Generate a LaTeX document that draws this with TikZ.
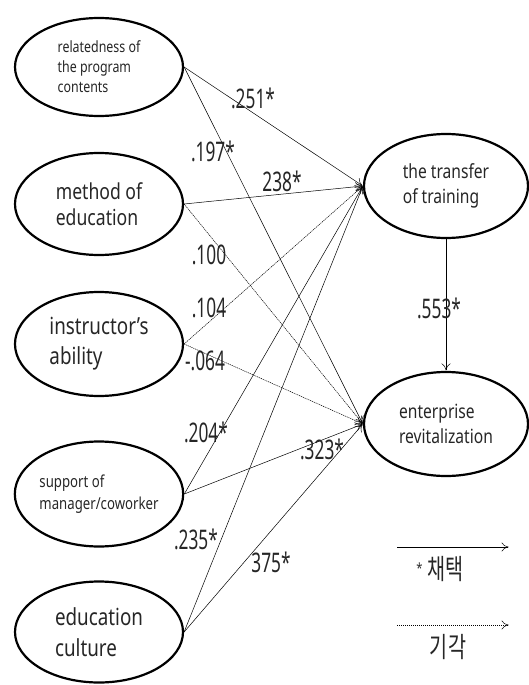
\documentclass[tikz,border=0pt]{standalone}
\usepackage{fontspec}
\setmainfont{Noto Sans}[FakeStretch=0.8]
\newfontfamily\numfont{Noto Sans}[FakeStretch=0.64]
\newfontfamily\kr{Noto Sans CJK KR}[FakeStretch=0.7]
\usetikzlibrary{shapes.geometric,arrows.meta}
\begin{document}
\begin{tikzpicture}[x=1pt,y=-1pt,
  var/.style={draw,ellipse,line width=2.2pt,inner sep=0pt,align=left,text=black!85},
  path/.style={-{To[length=7pt,width=9pt]},line width=0.5pt,shorten >=0.5pt},
  ns/.style={path,dash pattern=on 1.2pt off 0.8pt},
  coef/.style={font=\numfont\fontsize{27}{27}\selectfont,inner sep=0pt,text=black!85}]
\useasboundingbox (0,0) rectangle (528,685);
% left variables
\node[var,minimum width=168pt,minimum height=98pt,font=\fontsize{15.5}{20}\selectfont] (rel) at (99,67) {relatedness of\\the program\\contents};
\node[var,minimum width=168pt,minimum height=102pt,font=\fontsize{22}{26}\selectfont] (met) at (99,204) {method of\\education};
\node[var,minimum width=168pt,minimum height=104pt,font=\fontsize{23.5}{30}\selectfont] (ins) at (99,344) {instructor's\\ability};
\node[var,minimum width=168pt,minimum height=105pt,font=\fontsize{16.5}{22}\selectfont] (sup) at (99,494) {support of\\manager/coworker};
\node[var,minimum width=168pt,minimum height=101pt,font=\fontsize{23.5}{31}\selectfont] (edu) at (99,632) {education\\culture};
% right variables
\node[var,minimum width=164pt,minimum height=104pt,font=\fontsize{19.5}{25}\selectfont] (tr) at (446,186) {the transfer\\of training};
\node[var,minimum width=164pt,minimum height=104pt,font=\fontsize{19.5}{25}\selectfont] (en) at (446,424) {enterprise\\revitalization};
% paths
\draw[path] (rel.east) -- (tr.west);
\draw[path] (rel.east) -- (en.west);
\draw[path] (met.east) -- (tr.west);
\draw[ns] (met.east) -- (en.west);
\draw[ns] (ins.east) -- (tr.west);
\draw[ns] (ins.east) -- (en.west);
\draw[path] (sup.east) -- (tr.west);
\draw[path] (sup.east) -- (en.west);
\draw[path] (edu.east) -- (tr.west);
\draw[path] (edu.east) -- (en.west);
\draw[path] (tr.south) -- (en.north);
% coefficients
\node[coef] (c1) at (253,98) {.251*};
\node[coef] (c2) at (213,151) {.197*};
\node[coef] (c3) at (282,181) {238*};
\node[coef] (c4) at (209,255) {.100};
\node[coef] (c5) at (209,308) {.104};
\node[coef] (c6) at (205,361) {-.064};
\node[coef] (c7) at (206,432) {.204*};
\node[coef] (c8) at (322,449) {.323*};
\node[coef] (c9) at (196,539) {.235*};
\node[coef] (c10) at (271,562) {375*};
\node[coef] (c11) at (439,308) {.553*};
% legend
\coordinate (la) at (397,547);
\coordinate (lb) at (509,547);
\coordinate (lc) at (397,625);
\coordinate (ld) at (509,625);
\draw[path] (la) -- (lb);
\draw[ns] (lc) -- (ld);
\node[inner sep=0pt,text=black!85] (t1) at (440,569) {\raisebox{6pt}{\fontsize{14}{14}\selectfont *}\hspace{5pt}\kr\fontsize{28}{28}\selectfont 채택};
\node[inner sep=0pt,text=black!85] (t2) at (448,647) {\kr\fontsize{28}{28}\selectfont 기각};
\end{tikzpicture}
\end{document}
